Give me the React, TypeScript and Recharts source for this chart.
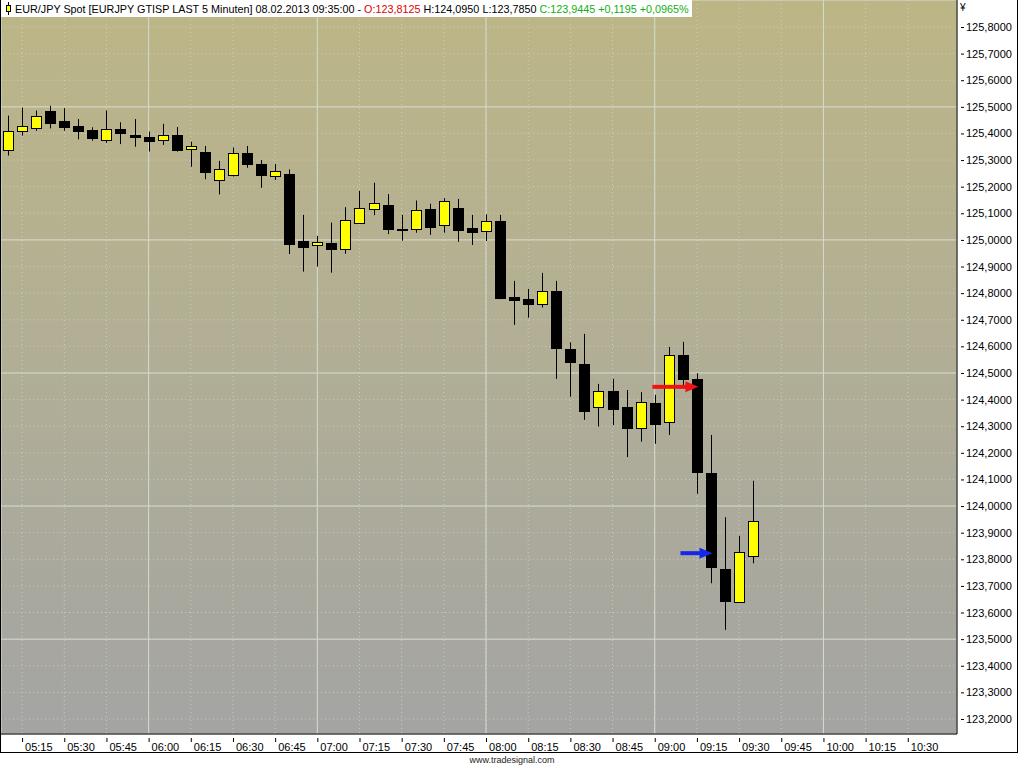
import React from 'react';
import { ComposedChart, Bar, Line, XAxis, YAxis, CartesianGrid } from 'recharts';

// 5-minute slots from 05:10 to 10:45 (the axis keeps running past the last bar)
const firstSlotMinutes = 5 * 60 + 10;
const slotCount = 68;
const pad = (n: number) => String(n).padStart(2, '0');
const slots = Array.from({ length: slotCount }, (_, i) => {
  const m = firstSlotMinutes + 5 * i;
  return `${pad(Math.floor(m / 60))}:${pad(m % 60)}`;
});

// EUR/JPY 5 min bars, 05:10 .. 09:35
const opens = [
  125.337, 125.408, 125.419, 125.484, 125.447, 125.428, 125.413, 125.373, 125.418, 125.393,
  125.387, 125.374, 125.394, 125.341, 125.329, 125.224, 125.243, 125.327, 125.285, 125.241,
  125.248, 124.996, 124.978, 124.987, 124.965, 125.064, 125.115, 125.131, 125.042, 125.040,
  125.116, 125.055, 125.120, 125.045, 125.032, 125.071, 124.785, 124.778, 124.761, 124.808,
  124.590, 124.534, 124.374, 124.433, 124.371, 124.291, 124.388, 124.315, 124.568, 124.477,
  124.123, 123.763, 123.639, 123.8125,
];
const highs = [
  125.467, 125.497, 125.486, 125.504, 125.495, 125.454, 125.423, 125.486, 125.442, 125.454,
  125.407, 125.436, 125.424, 125.369, 125.353, 125.297, 125.347, 125.353, 125.300, 125.285,
  125.265, 125.094, 125.015, 125.065, 125.123, 125.184, 125.215, 125.172, 125.094, 125.148,
  125.136, 125.157, 125.154, 125.094, 125.096, 125.094, 124.846, 124.816, 124.876, 124.846,
  124.615, 124.647, 124.459, 124.478, 124.436, 124.428, 124.418, 124.598, 124.617, 124.499,
  124.267, 123.958, 123.888, 124.095,
];
const lows = [
  125.317, 125.392, 125.410, 125.419, 125.410, 125.378, 125.373, 125.365, 125.360, 125.350,
  125.332, 125.357, 125.332, 125.275, 125.228, 125.171, 125.238, 125.271, 125.196, 125.225,
  124.947, 124.881, 124.900, 124.877, 124.948, 125.063, 125.093, 125.022, 124.997, 125.027,
  125.019, 125.027, 124.993, 124.981, 124.996, 124.777, 124.681, 124.708, 124.746, 124.478,
  124.411, 124.324, 124.299, 124.304, 124.184, 124.242, 124.234, 124.267, 124.443, 124.046,
  123.710, 123.535, 123.636, 123.785,
];
const closes = [
  125.409, 125.428, 125.465, 125.440, 125.425, 125.410, 125.384, 125.416, 125.403, 125.384,
  125.373, 125.393, 125.339, 125.353, 125.253, 125.265, 125.326, 125.287, 125.245, 125.258,
  124.985, 124.975, 124.991, 124.965, 125.074, 125.119, 125.138, 125.039, 125.040, 125.111,
  125.050, 125.145, 125.037, 125.031, 125.070, 124.783, 124.772, 124.761, 124.808, 124.592,
  124.543, 124.359, 124.433, 124.365, 124.291, 124.390, 124.310, 124.567, 124.477, 124.126,
  123.769, 123.641, 123.826, 123.9445,
];

// signal arrows
const redArrow = { slot: '09:15', price: 124.448 };
const blueArrow = { slot: '09:20', price: 123.823 };

const xTickLabels = [
  '05:15', '05:30', '05:45', '06:00', '06:15', '06:30', '06:45', '07:00', '07:15', '07:30', '07:45',
  '08:00', '08:15', '08:30', '08:45', '09:00', '09:15', '09:30', '09:45', '10:00', '10:15', '10:30',
];
const hourLines = ['06:00', '07:00', '08:00', '09:00', '10:00'];
const yTicks = [
  123.2, 123.3, 123.4, 123.5, 123.6, 123.7, 123.8, 123.9, 124.0, 124.1, 124.2, 124.3, 124.4, 124.5,
  124.6, 124.7, 124.8, 124.9, 125.0, 125.1, 125.2, 125.3, 125.4, 125.5, 125.6, 125.7, 125.8,
];
const halfLines = [123.5, 124.0, 124.5, 125.0, 125.5];
const yDomain = [123.1436, 125.9014];

const rows = slots.map((t, i) => {
  const has = i < opens.length;
  return {
    t,
    range: has ? [lows[i], highs[i]] : null,
    open: has ? opens[i] : null,
    high: has ? highs[i] : null,
    low: has ? lows[i] : null,
    close: has ? closes[i] : null,
    red: t === redArrow.slot ? redArrow.price : null,
    blue: t === blueArrow.slot ? blueArrow.price : null,
  };
});

const FONT = '"Liberation Sans", Arial, sans-serif';

function Candle(props: any) {
  const { x, y, width, height, payload } = props;
  if (!payload || payload.open == null || y == null || height == null) return null;
  const top = Math.min(y, y + height);
  const bot = Math.max(y, y + height);
  const span = payload.high - payload.low;
  const toY = (v: number) => (span === 0 ? top : top + ((payload.high - v) / span) * (bot - top));
  const yo = toY(payload.open);
  const yc = toY(payload.close);
  const up = payload.close >= payload.open;
  const bx = Math.round(x) + 0.5;
  const w = Math.round(width);
  const cx = bx + w / 2;
  const bTop = Math.round(Math.min(yo, yc)) + 0.5;
  const bH = Math.max(1, Math.round(Math.abs(yc - yo)));
  return (
    <g>
      <line x1={cx} x2={cx} y1={top} y2={bot} stroke="#000" strokeWidth={1} />
      <rect x={bx} y={bTop} width={w} height={bH} fill={up ? '#ffff00' : '#000'} stroke="#000" strokeWidth={1} />
    </g>
  );
}

function arrowDot(color: string, length: number) {
  return (props: any) => {
    const { cx, cy, value, index } = props;
    if (cx == null || cy == null || value == null || Number.isNaN(cy)) return <g key={`a-${index}`} />;
    const tip = cx + 1.5;
    const head = 13;
    return (
      <g key={`a-${index}`}>
        <rect x={tip - length} y={cy - 2} width={length - head + 1} height={4} fill={color} />
        <polygon points={`${tip},${cy} ${tip - head},${cy - 5.5} ${tip - head},${cy + 5.5}`} fill={color} />
      </g>
    );
  };
}

function XTick(props: any) {
  const { x, y, payload } = props;
  return (
    <g>
      <line x1={x + 0.5} x2={x + 0.5} y1={y + 4} y2={y + 8} stroke="#000" />
      <text x={x + 3} y={y + 17} fontSize={11} fontFamily={FONT} fill="#000" textAnchor="start">
        {payload.value}
      </text>
    </g>
  );
}

function YTick(props: any) {
  const { x, y, payload } = props;
  const label = Number(payload.value).toFixed(4).replace('.', ',');
  return (
    <g>
      <line x1={x + 4} x2={x + 7} y1={y + 0.5} y2={y + 0.5} stroke="#000" />
      <text x={x + 9} y={y + 4} fontSize={11} fontFamily={FONT} fill="#000" textAnchor="start">
        {label}
      </text>
    </g>
  );
}

export default function App() {
  return (
    <div style={{ position: 'absolute', left: 0, top: 0, width: 1024, height: 768, background: '#fff', fontFamily: FONT }}>
      <ComposedChart width={1024} height={768} data={rows} margin={{ top: 0, right: 7, bottom: 15, left: 1 }}>
        <defs>
          <linearGradient id="bgGrad" x1="0" y1="0" x2="0" y2="1">
            <stop offset="0%" stopColor="#bcb686" />
            <stop offset="50%" stopColor="#b1ae96" />
            <stop offset="100%" stopColor="#a4a4a3" />
          </linearGradient>
        </defs>
        {/* dotted grid on the visible ticks */}
        <CartesianGrid fill="url(#bgGrad)" stroke="#cfd4c4" strokeDasharray="1 3" strokeOpacity={0.8} />
        {/* solid grid: every hour and every half yen, taken from the hidden axes */}
        <CartesianGrid fill="none" stroke="#d3dccd" xAxisId="hours" yAxisId="halves" />

        <XAxis
          dataKey="t"
          type="category"
          ticks={xTickLabels}
          interval={0}
          height={19}
          tickSize={0}
          tickMargin={0}
          tickLine={false}
          axisLine={{ stroke: '#000' }}
          tick={<XTick />}
        />
        <XAxis xAxisId="hours" dataKey="t" type="category" ticks={hourLines} interval={0} hide />
        <YAxis
          orientation="right"
          type="number"
          domain={yDomain}
          allowDataOverflow
          ticks={yTicks}
          interval={0}
          width={60}
          tickSize={0}
          tickMargin={0}
          tickLine={false}
          axisLine={{ stroke: '#000' }}
          tick={<YTick />}
        />
        <YAxis
          yAxisId="halves"
          orientation="right"
          type="number"
          domain={yDomain}
          allowDataOverflow
          ticks={halfLines}
          interval={0}
          hide
        />

        <Bar dataKey="range" barSize={10} shape={<Candle />} isAnimationActive={false} />
        <Line dataKey="red" stroke="none" dot={arrowDot('#ee1414', 46)} activeDot={false} isAnimationActive={false} legendType="none" />
        <Line dataKey="blue" stroke="none" dot={arrowDot('#1428e6', 32)} activeDot={false} isAnimationActive={false} legendType="none" />
      </ComposedChart>

      {/* header */}
      <div
        style={{
          position: 'absolute', left: 1, top: 0, height: 17, background: '#fff', display: 'flex',
          alignItems: 'center', paddingRight: 3, fontSize: 10.8, whiteSpace: 'nowrap', color: '#000',
        }}
      >
        <svg width={14} height={17} style={{ display: 'block' }}>
          <line x1={7.5} x2={7.5} y1={2} y2={15} stroke="#000" />
          <rect x={5.5} y={5.5} width={4} height={6} fill="#ffff00" stroke="#000" />
        </svg>
        <span>EUR/JPY Spot [EURJPY GTISP LAST 5 Minuten] 08.02.2013 09:35:00 -&nbsp;</span>
        <span style={{ color: '#e00000' }}>O:123,8125</span>
        <span>&nbsp;H:124,0950 L:123,7850&nbsp;</span>
        <span style={{ color: '#10b010' }}>C:123,9445 +0,1195 +0,0965%</span>
      </div>

      {/* currency sign over the price scale */}
      <div style={{ position: 'absolute', left: 960, top: 2, fontSize: 10, color: '#000' }}>¥</div>

      {/* frame */}
      <div
        style={{
          position: 'absolute', left: 0, top: 0, width: 1016, height: 752, pointerEvents: 'none',
          borderLeft: '1px solid #000', borderRight: '1px solid #000', borderBottom: '1px solid #000',
        }}
      />

      <div style={{ position: 'absolute', left: 0, top: 755, width: 1024, textAlign: 'center', fontSize: 9, color: '#222' }}>
        www.tradesignal.com
      </div>
    </div>
  );
}
